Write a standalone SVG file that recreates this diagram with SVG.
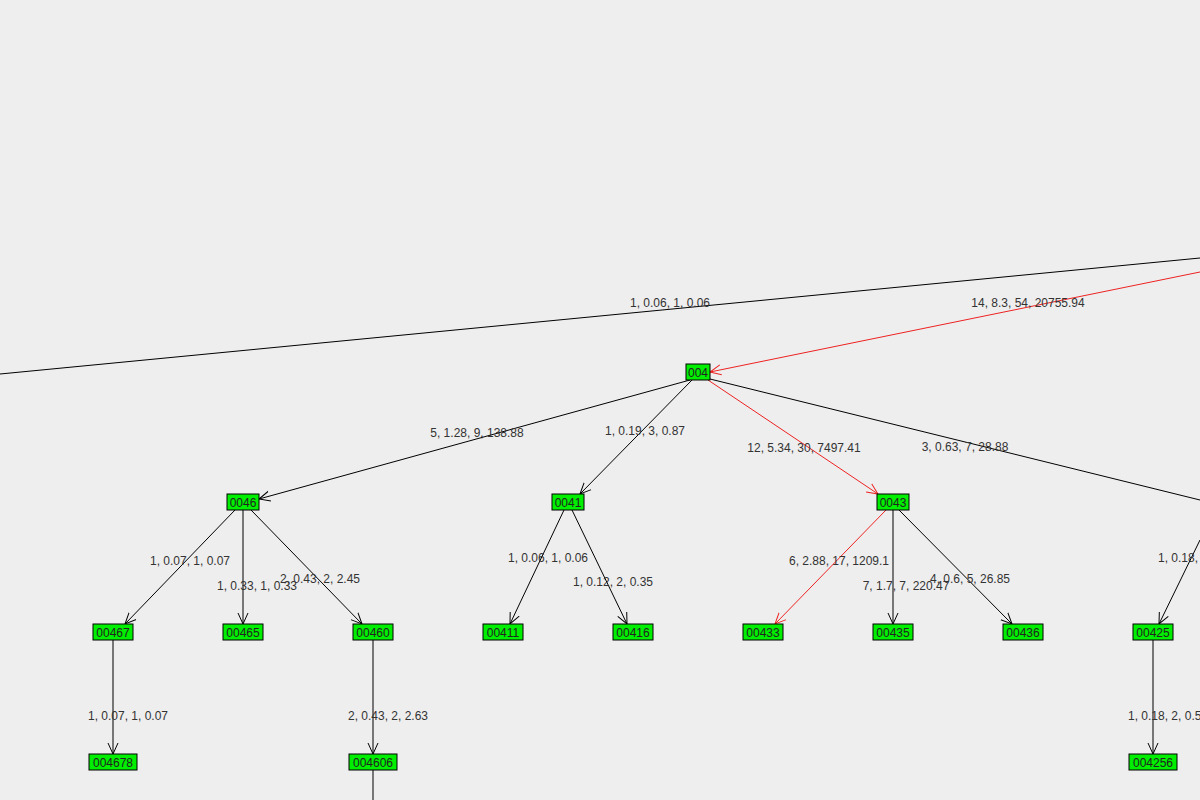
<svg xmlns="http://www.w3.org/2000/svg" width="1200" height="800" viewBox="0 0 1200 800">
<style>
.n rect{fill:#00ee00;stroke:#000;stroke-width:1}
.n text{font-family:"Liberation Sans",Arial,sans-serif;font-size:12px;fill:#222;text-anchor:middle}
.e line{stroke:#000;stroke-width:1;fill:none}
.e line.r{stroke:#ee2222}
.e line.a{marker-end:url(#ab)}
.e line.r.a{marker-end:url(#ar)}
.l text{font-family:"Liberation Sans",Arial,sans-serif;font-size:12px;fill:#333;text-anchor:middle}
</style>
<defs>
<marker id="ab" viewBox="0 0 12 12" refX="11" refY="6" markerWidth="12" markerHeight="12" markerUnits="userSpaceOnUse" orient="auto"><path d="M0,1 L11,6 L0,11" fill="none" stroke="#000"/></marker>
<marker id="ar" viewBox="0 0 12 12" refX="11" refY="6" markerWidth="12" markerHeight="12" markerUnits="userSpaceOnUse" orient="auto"><path d="M0,1 L11,6 L0,11" fill="none" stroke="#ee2222"/></marker>
</defs>
<rect width="1200" height="800" fill="#eeeeee"/>
<g id="connectors" class="e">
<line x1="0" y1="374" x2="1200" y2="258"/>
<line class="r a" x1="1200" y1="272" x2="710" y2="372"/>
<line x1="710" y1="379" x2="1200" y2="500"/>
<line x1="1200" y1="540" x2="1159" y2="624" class="a"/>
<line class="a" x1="690" y1="380" x2="259" y2="499"/>
<line class="a" x1="692" y1="380" x2="580" y2="494"/>
<line class="r a" x1="708" y1="380" x2="878" y2="494"/>
<line class="a" x1="235" y1="510" x2="125" y2="624"/>
<line class="a" x1="243" y1="510" x2="243" y2="624"/>
<line class="a" x1="251" y1="510" x2="362" y2="624"/>
<line class="a" x1="564" y1="510" x2="510" y2="624"/>
<line class="a" x1="572" y1="510" x2="627" y2="624"/>
<line class="r a" x1="886" y1="510" x2="775" y2="624"/>
<line class="a" x1="893" y1="510" x2="893" y2="624"/>
<line class="a" x1="899" y1="510" x2="1012" y2="624"/>
<line class="a" x1="113" y1="640" x2="113" y2="754"/>
<line class="a" x1="373" y1="640" x2="373" y2="754"/>
<line class="a" x1="1153" y1="640" x2="1153" y2="754"/>
<line x1="373" y1="770" x2="373" y2="800"/>
</g>
<g class="l">
<text x="670" y="307">1, 0.06, 1, 0.06</text>
<text x="1028" y="307">14, 8.3, 54, 20755.94</text>
<text x="477" y="437">5, 1.28, 9, 138.88</text>
<text x="645" y="435">1, 0.19, 3, 0.87</text>
<text x="804" y="452">12, 5.34, 30, 7497.41</text>
<text x="965" y="451">3, 0.63, 7, 28.88</text>
<text x="190" y="565">1, 0.07, 1, 0.07</text>
<text x="257" y="590">1, 0.33, 1, 0.33</text>
<text x="320" y="583">2, 0.43, 2, 2.45</text>
<text x="548" y="562">1, 0.06, 1, 0.06</text>
<text x="613" y="586">1, 0.12, 2, 0.35</text>
<text x="839" y="565">6, 2.88, 17, 1209.1</text>
<text x="906" y="590">7, 1.7, 7, 220.47</text>
<text x="970" y="583">4, 0.6, 5, 26.85</text>
<text x="1158" y="562" style="text-anchor:start">1, 0.18,</text>
<text x="128" y="720">1, 0.07, 1, 0.07</text>
<text x="388" y="720">2, 0.43, 2, 2.63</text>
<text x="1128" y="720" style="text-anchor:start">1, 0.18, 2, 0.5</text>
</g>
<g id="n004" class="n"><rect x="686" y="364" width="24" height="16"/><text x="698" y="377">004</text></g>
<g id="n0046" class="n"><rect x="227" y="494" width="32" height="16"/><text x="243" y="507">0046</text></g>
<g id="n0041" class="n"><rect x="552" y="494" width="32" height="16"/><text x="568" y="507">0041</text></g>
<g id="n0043" class="n"><rect x="877" y="494" width="32" height="16"/><text x="893" y="507">0043</text></g>
<g id="n00467" class="n"><rect x="93" y="624" width="40" height="16"/><text x="113" y="637">00467</text></g>
<g id="n00465" class="n"><rect x="223" y="624" width="40" height="16"/><text x="243" y="637">00465</text></g>
<g id="n00460" class="n"><rect x="353" y="624" width="40" height="16"/><text x="373" y="637">00460</text></g>
<g id="n00411" class="n"><rect x="483" y="624" width="40" height="16"/><text x="503" y="637">00411</text></g>
<g id="n00416" class="n"><rect x="613" y="624" width="40" height="16"/><text x="633" y="637">00416</text></g>
<g id="n00433" class="n"><rect x="743" y="624" width="40" height="16"/><text x="763" y="637">00433</text></g>
<g id="n00435" class="n"><rect x="873" y="624" width="40" height="16"/><text x="893" y="637">00435</text></g>
<g id="n00436" class="n"><rect x="1003" y="624" width="40" height="16"/><text x="1023" y="637">00436</text></g>
<g id="n00425" class="n"><rect x="1133" y="624" width="40" height="16"/><text x="1153" y="637">00425</text></g>
<g id="n004678" class="n"><rect x="89" y="754" width="48" height="16"/><text x="113" y="767">004678</text></g>
<g id="n004606" class="n"><rect x="349" y="754" width="48" height="16"/><text x="373" y="767">004606</text></g>
<g id="n004256" class="n"><rect x="1129" y="754" width="48" height="16"/><text x="1153" y="767">004256</text></g>
</svg>
